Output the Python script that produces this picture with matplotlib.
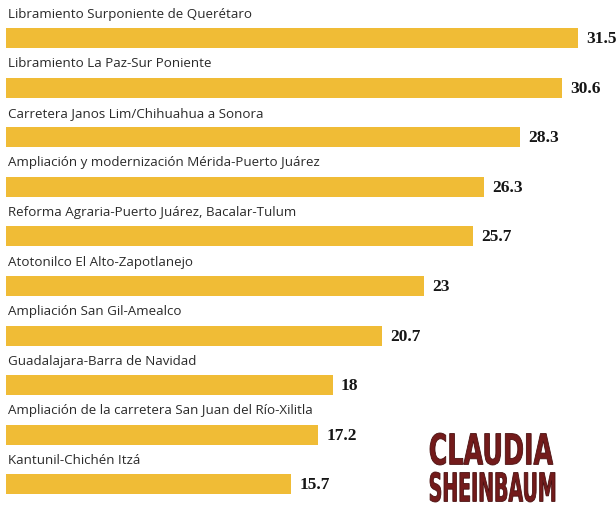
import matplotlib.pyplot as plt
from matplotlib.textpath import TextPath
from matplotlib.patches import PathPatch
from matplotlib.font_manager import FontProperties
from matplotlib.transforms import Affine2D

# road projects and values (as printed)
projects = [
    "Libramiento Surponiente de Querétaro",
    "Libramiento La Paz-Sur Poniente",
    "Carretera Janos Lim/Chihuahua a Sonora",
    "Ampliación y modernización Mérida-Puerto Juárez",
    "Reforma Agraria-Puerto Juárez, Bacalar-Tulum",
    "Atotonilco El Alto-Zapotlanejo",
    "Ampliación San Gil-Amealco",
    "Guadalajara-Barra de Navidad",
    "Ampliación de la carretera San Juan del Río-Xilitla",
    "Kantunil-Chichén Itzá",
]
values = [31.5, 30.6, 28.3, 26.3, 25.7, 23, 20.7, 18, 17.2, 15.7]
value_labels = ["31.5", "30.6", "28.3", "26.3", "25.7", "23", "20.7", "18", "17.2", "15.7"]

bar_color = "#f0bc36"

fig = plt.figure(figsize=(6.16, 5.13), dpi=100)
ax = fig.add_axes([0, 0, 1, 1])
ax.set_xlim(-0.33, 33.59)
ax.set_ylim(9.577, -0.766)
ax.axis("off")

ypos = list(range(len(values)))
ax.barh(ypos, values, height=0.4, color=bar_color, edgecolor="none")

for i, (name, v, lab) in enumerate(zip(projects, values, value_labels)):
    ax.text(0.1, i - 0.48, name, ha="left", va="center",
            fontsize=9.6, family=["Open Sans", "DejaVu Sans"], color="#2a2a2a")
    ax.text(v + 0.45, i + 0.02, lab, ha="left", va="center",
            fontsize=12.5, fontweight="bold", family=["Liberation Serif", "DejaVu Serif"],
            color="#161616")

# masthead fragment at the bottom right, squeezed into its box (pixel coords)
ov = fig.add_axes([0, 0, 1, 1])
ov.set_xlim(0, 616)
ov.set_ylim(0, 513)
ov.axis("off")
prop = FontProperties(family="DejaVu Sans", weight="bold")
for word, x0, y0, w, h in [("CLAUDIA", 430, 48, 123, 32), ("SHEINBAUM", 430, 11, 125, 30)]:
    tp = TextPath((0, 0), word, size=10, prop=prop)
    ext = tp.get_extents()
    tr = Affine2D().translate(-ext.x0, -ext.y0).scale(w / ext.width, h / ext.height).translate(x0, y0)
    ov.add_patch(PathPatch(tr.transform_path(tp), facecolor="#731b1b",
                           edgecolor="#4a1010", linewidth=0.6))

fig.savefig("out.png", dpi=100)
